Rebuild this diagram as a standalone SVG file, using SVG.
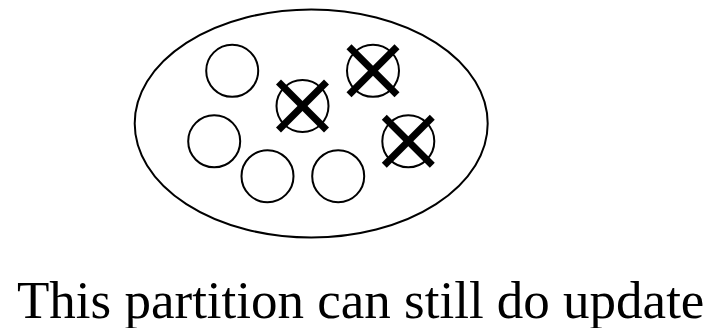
<svg xmlns="http://www.w3.org/2000/svg" width="713" height="328" viewBox="0 0 713 328">
<style>
.c{fill:none;stroke:#000;stroke-width:2}
.x{stroke:#000;stroke-width:7;stroke-linecap:butt}
.t{font-family:"Liberation Serif","Times New Roman",serif;font-size:53px;fill:#000}
</style>
<rect width="713" height="328" fill="#fff"/>
<g id="partition"><ellipse class="c" cx="311.2" cy="123.5" rx="176.5" ry="114"/></g>
<g id="n1"><circle class="c" cx="232.2" cy="70.8" r="26"/></g>
<g id="n2"><circle class="c" cx="302.5" cy="106" r="26"/><line class="x" x1="278.5" y1="82" x2="326.5" y2="130"/><line class="x" x1="326.5" y1="82" x2="278.5" y2="130"/></g>
<g id="n3"><circle class="c" cx="373" cy="70.8" r="26"/><line class="x" x1="349" y1="46.8" x2="397" y2="94.8"/><line class="x" x1="397" y1="46.8" x2="349" y2="94.8"/></g>
<g id="n4"><circle class="c" cx="214.2" cy="141.3" r="26"/></g>
<g id="n5"><circle class="c" cx="267.5" cy="176.2" r="26"/></g>
<g id="n6"><circle class="c" cx="338.2" cy="176.2" r="26"/></g>
<g id="n7"><circle class="c" cx="408.3" cy="141.3" r="26"/><line class="x" x1="384.3" y1="117.3" x2="432.3" y2="165.3"/><line class="x" x1="432.3" y1="117.3" x2="384.3" y2="165.3"/></g>
<g id="connectors"/>
<text class="t" x="17" y="318">This partition can still do update</text>
</svg>
